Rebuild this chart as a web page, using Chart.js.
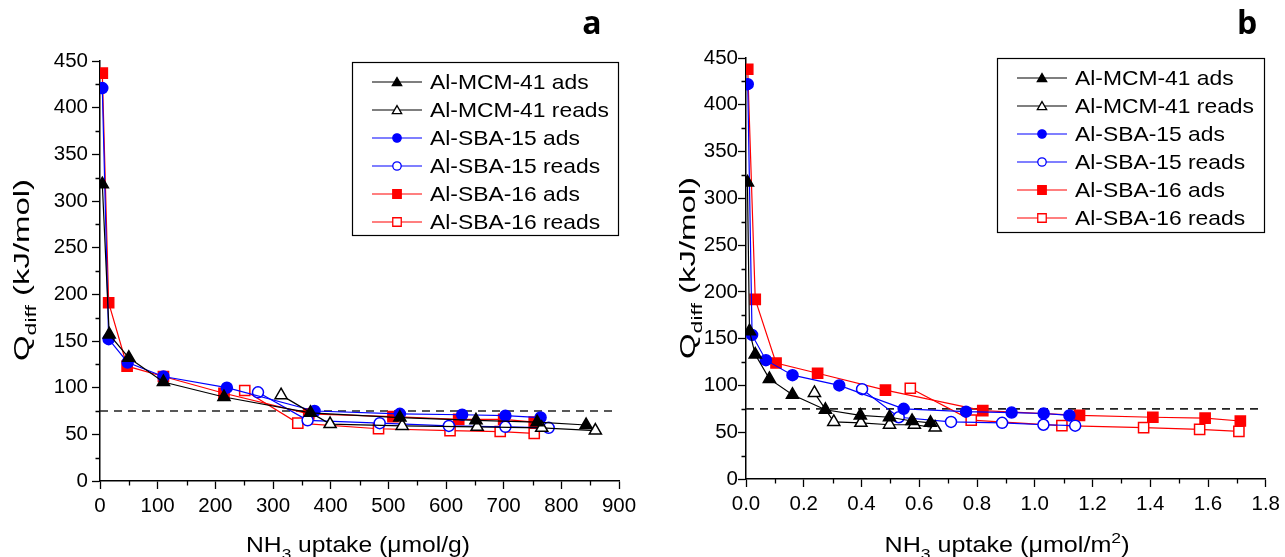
<!DOCTYPE html>
<html>
<head>
<meta charset="utf-8">
<script src="https://cdn.jsdelivr.net/npm/chart.js@4.4.1/dist/chart.umd.min.js"></script>
<style>
  html, body { margin: 0; padding: 0; background: #fff; }
  #wrap { position: relative; width: 1285px; height: 557px; }
  #chartA { position: absolute; left: 0; top: 0; }
  #chartB { position: absolute; left: 642px; top: 0; }
</style>
</head>
<body>
<div id="wrap">
  <canvas id="chartA" width="642" height="557"></canvas>
  <canvas id="chartB" width="643" height="557"></canvas>
</div>
<script>
// Series names
const seriesLabels = ['Al-MCM-41 ads', 'Al-MCM-41 reads', 'Al-SBA-15 ads', 'Al-SBA-15 reads', 'Al-SBA-16 ads', 'Al-SBA-16 reads'];

// Panel a: uptake in umol/g
const aMcmAdsX = [4, 16, 50, 110, 215, 365, 520, 652, 758, 843];
const aMcmAdsY = [318, 157, 132, 106, 90, 73, 68, 65, 63, 60];
const aMcmReadsX = [314, 399, 524, 654, 766, 859];
const aMcmReadsY = [92, 61, 59, 58, 57, 54];
const aSba15AdsX = [4, 15, 48, 110, 220, 372, 520, 628, 703, 764];
const aSba15AdsY = [421, 152, 127, 112, 100, 75, 72, 71, 70, 68];
const aSba15ReadsX = [274, 360, 485, 605, 703, 778];
const aSba15ReadsY = [95, 65, 62, 59, 58, 57];
const aSba16AdsX = [4, 15, 47, 110, 215, 362, 508, 622, 700, 753];
const aSba16AdsY = [437, 191, 123, 112, 94, 72, 69, 66, 66, 63];
const aSba16ReadsX = [251, 343, 483, 607, 694, 753];
const aSba16ReadsY = [97, 62, 56, 54, 53, 51];

// Panel b: uptake in umol/m2
const bMcmAdsX = [0.005, 0.012, 0.032, 0.081, 0.161, 0.275, 0.396, 0.497, 0.575, 0.639];
const bMcmAdsY = [317, 158, 133, 107, 90, 74, 68, 66, 62, 60];
const bMcmReadsX = [0.237, 0.304, 0.398, 0.497, 0.583, 0.655];
const bMcmReadsY = [92, 61, 60, 58, 58, 55];
const bSba15AdsX = [0.006, 0.021, 0.069, 0.161, 0.323, 0.546, 0.762, 0.92, 1.031, 1.12];
const bSba15AdsY = [422, 154, 127, 111, 100, 75, 72, 71, 70, 68];
const bSba15ReadsX = [0.402, 0.529, 0.71, 0.887, 1.03, 1.14];
const bSba15ReadsY = [96, 66, 61, 60, 58, 57];
const bSba16AdsX = [0.006, 0.032, 0.104, 0.248, 0.483, 0.82, 1.155, 1.409, 1.59, 1.712];
const bSba16AdsY = [438, 192, 124, 113, 95, 73, 68, 66, 65, 62];
const bSba16ReadsX = [0.569, 0.78, 1.094, 1.377, 1.571, 1.707];
const bSba16ReadsY = [97, 63, 57, 55, 53, 51];

// Reference line and axis ranges
const refLineY = 75;
const refLineEndA = 895;
const refLineEndB = 1.78;
const yTicks = [0, 50, 100, 150, 200, 250, 300, 350, 400, 450];
const xTicksA = [0, 100, 200, 300, 400, 500, 600, 700, 800, 900];
const xTicksB = [0, 0.2, 0.4, 0.6, 0.8, 1.0, 1.2, 1.4, 1.6, 1.8];

const FONT = "'Liberation Sans', Arial, sans-serif";

const styles = [
    { color: '#000000', shape: 'triangle', filled: true, r: 7 },
    { color: '#000000', shape: 'triangle', filled: false, r: 7 },
    { color: '#0000ff', shape: 'circle', filled: true, r: 5.5 },
    { color: '#0000ff', shape: 'circle', filled: false, r: 5.5 },
    { color: '#ff0000', shape: 'rect', filled: true, r: 7.2 },
    { color: '#ff0000', shape: 'rect', filled: false, r: 7.2 },
];

function toPoints(xs, ys) {
    return xs.map((x, i) => ({ x: x, y: ys[i] }));
}

function makeDatasets(seriesX, seriesY, refEnd) {
    const sets = seriesLabels.map((label, i) => {
        const s = styles[i];
        return {
            label: label,
            data: toPoints(seriesX[i], seriesY[i]),
            showLine: true,
            borderColor: s.color,
            borderWidth: 1.2,
            pointStyle: s.shape,
            pointRadius: s.r,
            pointBackgroundColor: s.filled ? s.color : '#ffffff',
            pointBorderColor: s.color,
            pointBorderWidth: 1.5,
        };
    });
    sets.push({
        label: 'ref',
        data: [{ x: 0, y: refLineY }, { x: refEnd, y: refLineY }],
        showLine: true,
        borderColor: '#222222',
        borderWidth: 1.6,
        borderDash: [8, 6],
        pointRadius: 0,
    });
    return sets;
}

// draw text with sub/superscript parts, stretched to a target length
function richText(ctx, parts, size, x, y, target) {
    const widths = parts.map(p => {
        ctx.font = (p.sub || p.sup ? size * 0.7 : size) + 'px ' + FONT;
        return ctx.measureText(p.t).width;
    });
    const total = widths.reduce((a, b) => a + b, 0);
    const k = target ? target / total : 1;
    ctx.save();
    ctx.translate(x, y);
    ctx.scale(k, 1);
    let cx = -total / 2;
    ctx.textBaseline = 'alphabetic';
    ctx.textAlign = 'left';
    parts.forEach((p, i) => {
        ctx.font = (p.sub || p.sup ? size * 0.7 : size) + 'px ' + FONT;
        let dy = 0;
        if (p.sub) dy = size * 0.3;
        if (p.sup) dy = -size * 0.4;
        ctx.fillText(p.t, cx, dy);
        cx += widths[i];
    });
    ctx.restore();
}

function drawMarker(ctx, shape, filled, color, x, y, r) {
    ctx.beginPath();
    if (shape === 'triangle') {
        ctx.moveTo(x, y - r);
        ctx.lineTo(x + r * 0.866, y + r * 0.5);
        ctx.lineTo(x - r * 0.866, y + r * 0.5);
        ctx.closePath();
    } else if (shape === 'circle') {
        ctx.arc(x, y, r, 0, Math.PI * 2);
    } else {
        const h = r * Math.SQRT1_2;
        ctx.rect(x - h, y - h, 2 * h, 2 * h);
    }
    ctx.fillStyle = filled ? color : '#ffffff';
    ctx.fill();
    ctx.strokeStyle = color;
    ctx.lineWidth = 1.3;
    ctx.stroke();
}

const extras = {
    id: 'extras',
    afterDraw(chart, args, opts) {
        const ctx = chart.ctx;
        const xs = chart.scales.x, ys = chart.scales.y;
        const { left, bottom } = chart.chartArea;
        ctx.save();

        // minor ticks
        ctx.strokeStyle = '#000';
        ctx.lineWidth = 1.3;
        ctx.beginPath();
        for (let v = opts.yMinorStep; v < ys.max; v += opts.yMinorStep * 2) {
            const py = Math.round(ys.getPixelForValue(v)) + 0.5;
            ctx.moveTo(left - 4.5, py);
            ctx.lineTo(left, py);
        }
        for (let v = opts.xMinorStep; v < xs.max; v += opts.xMinorStep * 2) {
            const px = Math.round(xs.getPixelForValue(v)) + 0.5;
            ctx.moveTo(px, bottom);
            ctx.lineTo(px, bottom + 4.5);
        }
        ctx.stroke();

        // axis titles
        ctx.fillStyle = '#000';
        richText(ctx, opts.xTitle, 22, opts.xTitlePos[0], opts.xTitlePos[1], opts.xTitleLen);
        ctx.save();
        ctx.translate(opts.yTitlePos[0], opts.yTitlePos[1]);
        ctx.rotate(-Math.PI / 2);
        richText(ctx, [{ t: 'Q' }, { t: 'diff', sub: true }, { t: ' (kJ/mol)' }], 22, 0, 7, opts.yTitleLen);
        ctx.restore();

        // panel letter
        ctx.font = "bold 32px 'Open Sans', 'DejaVu Sans', sans-serif";
        ctx.textAlign = 'center';
        ctx.textBaseline = 'alphabetic';
        ctx.fillText(opts.letter, opts.letterPos[0], opts.letterPos[1]);

        // legend box
        const lg = opts.legend;
        ctx.fillStyle = '#fff';
        ctx.fillRect(lg.x, lg.y, lg.w, lg.h);
        ctx.strokeStyle = '#000';
        ctx.lineWidth = 1.2;
        ctx.strokeRect(lg.x + 0.5, lg.y + 0.5, lg.w, lg.h);
        ctx.font = '21px ' + FONT;
        const kx = lg.textLen / ctx.measureText(seriesLabels[1]).width;
        seriesLabels.forEach((label, i) => {
            const s = styles[i];
            const ry = lg.y + lg.firstRow + i * lg.rowGap;
            ctx.strokeStyle = s.color;
            ctx.lineWidth = 1.2;
            ctx.beginPath();
            ctx.moveTo(lg.x + lg.lineStart, ry);
            ctx.lineTo(lg.x + lg.lineStart + 50, ry);
            ctx.stroke();
            const mr = s.shape === 'circle' ? 4.2 : (s.shape === 'rect' ? 6 : 5.4);
            drawMarker(ctx, s.shape, s.filled, s.color, lg.x + lg.lineStart + 25, ry + (s.shape === 'triangle' ? 1 : 0), mr);
            ctx.save();
            ctx.translate(lg.x + lg.textStart, ry + 1);
            ctx.scale(kx, 1);
            ctx.fillStyle = '#000';
            ctx.font = '21px ' + FONT;
            ctx.textAlign = 'left';
            ctx.textBaseline = 'middle';
            ctx.fillText(label, 0, 0);
            ctx.restore();
        });
        ctx.restore();
    }
};

function buildChart(canvasId, datasets, xMax, xTickVals, xFmt, layout, extraOpts) {
    return new Chart(document.getElementById(canvasId), {
        type: 'scatter',
        data: { datasets: datasets },
        plugins: [extras],
        options: {
            responsive: false,
            animation: false,
            devicePixelRatio: 1,
            layout: { padding: { top: layout.top, right: layout.right, left: 0, bottom: 0 } },
            plugins: {
                legend: { display: false },
                tooltip: { enabled: false },
                extras: extraOpts,
            },
            scales: {
                x: {
                    type: 'linear',
                    min: 0,
                    max: xMax,
                    afterBuildTicks: (scale) => { scale.ticks = xTickVals.map(v => ({ value: v })); },
                    afterFit: (scale) => { scale.height = layout.xHeight; },
                    border: { display: true, color: '#000', width: 1.5 },
                    grid: { display: true, drawOnChartArea: false, drawTicks: true, tickLength: 8, tickColor: '#000', tickWidth: 1.3 },
                    ticks: {
                        autoSkip: false, maxRotation: 0, padding: 5,
                        color: '#000', font: { family: FONT, size: 20.5 },
                        callback: xFmt,
                    },
                },
                y: {
                    type: 'linear',
                    min: 0,
                    max: 450,
                    afterBuildTicks: (scale) => { scale.ticks = yTicks.map(v => ({ value: v })); },
                    afterFit: (scale) => { scale.width = layout.yWidth; },
                    border: { display: true, color: '#000', width: 1.5 },
                    grid: { display: true, drawOnChartArea: false, drawTicks: true, tickLength: 8, tickColor: '#000', tickWidth: 1.3 },
                    ticks: {
                        autoSkip: false, padding: layout.yPad,
                        color: '#000', font: { family: FONT, size: 20.5 },
                    },
                },
            },
        },
    });
}

buildChart('chartA',
    makeDatasets([aMcmAdsX, aMcmReadsX, aSba15AdsX, aSba15ReadsX, aSba16AdsX, aSba16ReadsX],
                 [aMcmAdsY, aMcmReadsY, aSba15AdsY, aSba15ReadsY, aSba16AdsY, aSba16ReadsY], refLineEndA),
    900, xTicksA, (v) => String(v),
    { top: 61, right: 23, yWidth: 100, xHeight: 76, yPad: 4 },
    {
        yMinorStep: 25, xMinorStep: 50,
        xTitle: [{ t: 'NH' }, { t: '3', sub: true }, { t: ' uptake (\u03bcmol/g)' }],
        xTitlePos: [358, 552], xTitleLen: 224,
        yTitlePos: [22, 270], yTitleLen: 182,
        letter: 'a', letterPos: [592, 34],
        legend: { x: 352, y: 62, w: 266, h: 173, firstRow: 20, rowGap: 28, lineStart: 20, textStart: 78, textLen: 179 },
    });

buildChart('chartB',
    makeDatasets([bMcmAdsX, bMcmReadsX, bSba15AdsX, bSba15ReadsX, bSba16AdsX, bSba16ReadsX],
                 [bMcmAdsY, bMcmReadsY, bSba15AdsY, bSba15ReadsY, bSba16AdsY, bSba16ReadsY], refLineEndB),
    1.8, xTicksB, (v) => Number(v).toFixed(1),
    { top: 58, right: 18, yWidth: 104, xHeight: 78, yPad: 0 },
    {
        yMinorStep: 25, xMinorStep: 0.1,
        xTitle: [{ t: 'NH' }, { t: '3', sub: true }, { t: ' uptake (\u03bcmol/m' }, { t: '2', sup: true }, { t: ')' }],
        xTitlePos: [365, 552], xTitleLen: 245,
        yTitlePos: [46, 268], yTitleLen: 182,
        letter: 'b', letterPos: [605, 34],
        legend: { x: 355, y: 58, w: 267, h: 174, firstRow: 20, rowGap: 28, lineStart: 20, textStart: 78, textLen: 179 },
    });
</script>
</body>
</html>
